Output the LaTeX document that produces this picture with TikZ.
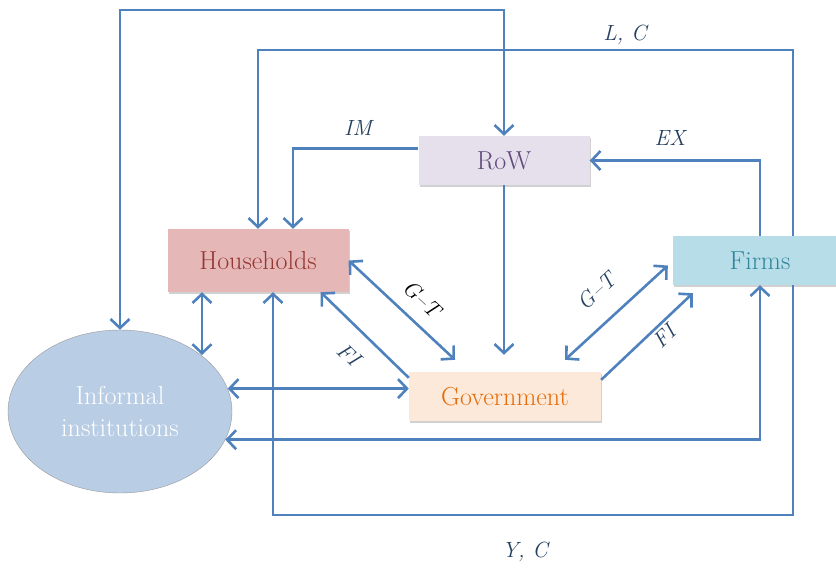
\documentclass[tikz,border=0pt]{standalone}
\usepackage{fontspec}
\usepackage{tikz}
\usetikzlibrary{arrows.meta,positioning,shapes.geometric,shadows}
\definecolor{flowblue}{HTML}{4F81BD}
\definecolor{labelblue}{HTML}{243F60}
\tikzset{
    sector/.style={
           rectangle,
           minimum height=49pt,
           inner sep=0pt,
           text centered,
           font=\fontsize{26}{30}\selectfont,
           drop shadow={shadow xshift=1pt,shadow yshift=-1.5pt,opacity=0.3,fill=black!60},
           },
    flow/.style={
           draw=flowblue,
           line width=2.6pt,
           arrows={-},
           >={Straight Barb[length=9pt,width=19pt]},
           },
    flowlabel/.style={
           font=\fontsize{22}{26}\selectfont\itshape,
           text=labelblue,
           inner sep=2pt,
           },
}

\begin{document}
\begin{tikzpicture}[x=1pt,y=-1pt]

 % fix the page to the size of the figure
 \useasboundingbox (0,0) rectangle (836,568);

 % the five sectors
 \node[sector,minimum width=181pt,minimum height=63pt,
 fill={rgb,255:red,229;green,184;blue,183},
 text={rgb,255:red,149;green,55;blue,53}] (HH) at (258,260.5)
 {Households};

 \node[sector,minimum width=171pt,
 fill={rgb,255:red,229;green,224;blue,236},
 text={rgb,255:red,95;green,73;blue,122}] (RoW) at (504,160.5)
 {RoW};

 \node[sector,minimum width=174pt,
 fill={rgb,255:red,183;green,222;blue,232},
 text={rgb,255:red,49;green,133;blue,155}] (Firms) at (760,260.5)
 {Firms};

 \node[sector,minimum width=192pt,
 fill={rgb,255:red,253;green,233;blue,217},
 text={rgb,255:red,228;green,108;blue,10}] (Gov) at (505,396.5)
 {Government};

 % informal institutions (ellipse)
 \node[ellipse,
 minimum width=224pt,
 minimum height=163pt,
 inner sep=0pt,
 draw=gray!80, thin,
 fill={rgb,255:red,185;green,205;blue,229},
 text=white, align=center,
 font=\fontsize{26}{32}\selectfont] (Inf) at (120,411.5)
 {Informal\\institutions};

 % free ends on the outer loops
 \coordinate (LC) at (793,50);
 \coordinate (YC) at (793,515);
 \coordinate (infTop) at (202,355);

 % outer loops
 \draw[flow,<->] (Inf.north) |- ([yshift=126pt]RoW.north) -- (RoW.north);
 \draw[flow,->] (LC |- Firms.north) -- (LC) -| (HH.north);
 \draw[flow,->] (YC |- Firms.south) -- (YC) -| ([xshift=15pt]HH.south);

 % trade with the rest of the world
 \draw[flow,->] ([yshift=12pt]RoW.west) -| ([xshift=35pt]HH.north);
 \draw[flow,->] (Firms.north) |- (RoW.east);
 \draw[flow,->,shorten >=17pt] (RoW.south) -- (RoW.south |- Gov.north);

 % government flows
 \draw[flow,<->] (HH.east) -- ([xshift=-50pt,yshift=12pt]Gov.north)
 node[pos=0.55,sloped,above=11pt,flowlabel,text=black] {G--T};
 \draw[flow,<-] ([xshift=-28pt]HH.south east) -- ([yshift=-6pt]Gov.north west)
 node[pos=0.52,sloped,below=14pt,flowlabel] {FI};
 \draw[flow,<->] ([xshift=60pt,yshift=12pt]Gov.north) -- ([xshift=-5pt,yshift=-5pt]Firms.west)
 node[midway,sloped,above=18pt,flowlabel] {G--T};
 \draw[flow,->] ([yshift=-8pt]Gov.north east) -- ([xshift=20pt,yshift=-8pt]Firms.south west)
 node[pos=0.6,sloped,below=1pt,flowlabel] {FI};

 % links with informal institutions
 \draw[flow,<->] ([xshift=-56pt]HH.south) -- (infTop);
 \draw[flow,<->] (Inf.12) -- (Inf.12 -| Gov.west);
 \draw[flow,<->] (Firms.south) |- (Inf.-15);

 % loop labels
 \node[flowlabel] (lblLC) at (625,35) {L, C};
 \node[flowlabel] (lblYC) at (525,552) {Y, C};
 \node[flowlabel] (lblIM) at (358,128) {IM};
 \node[flowlabel] (lblEX) at (670,138) {EX};

\end{tikzpicture}
\end{document}
